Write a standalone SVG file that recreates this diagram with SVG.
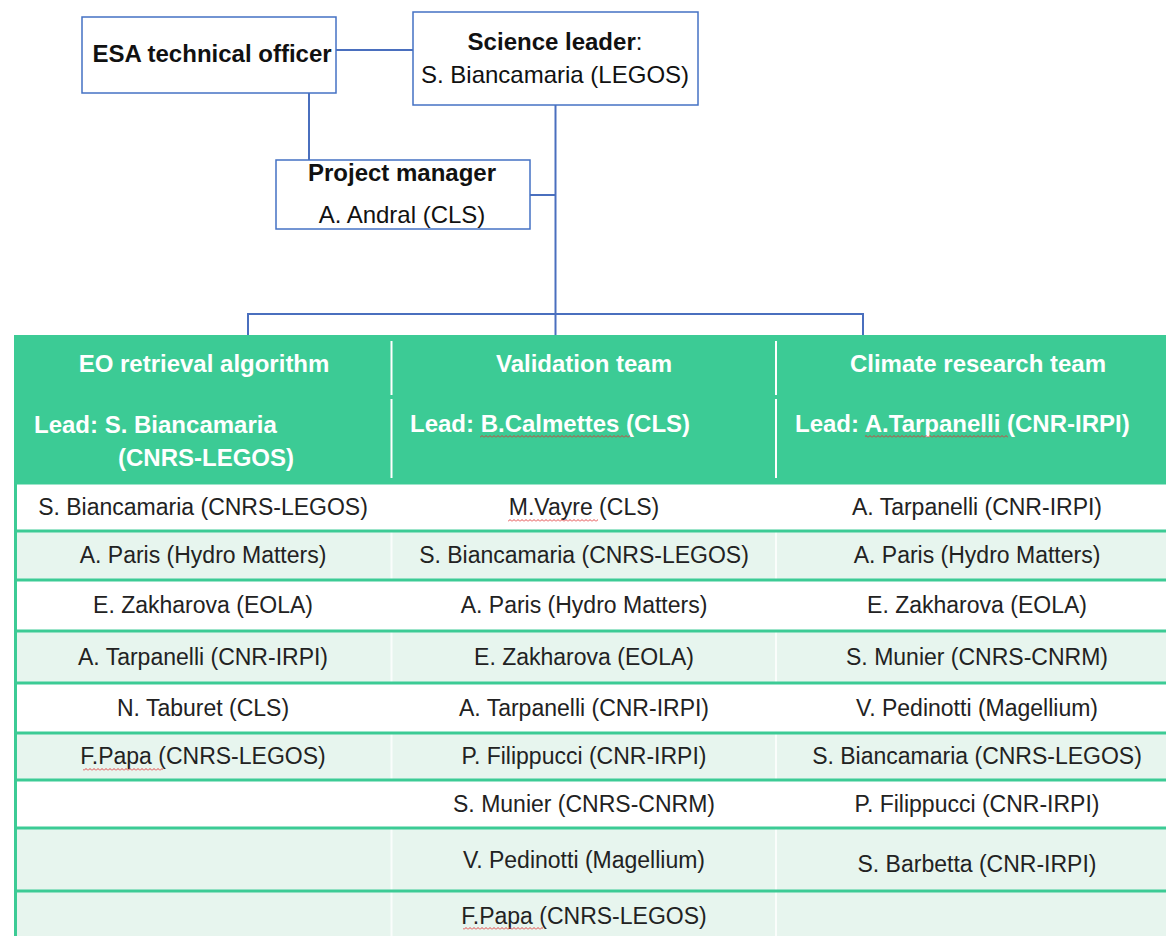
<svg xmlns="http://www.w3.org/2000/svg" width="1166" height="936" viewBox="0 0 1166 936">
<defs>
<style>
.box{fill:#fff;stroke:#4472C4;stroke-width:1.5}
.conn{stroke:#4A6FBE;stroke-width:2;fill:none}
.tb{font-family:"Liberation Sans",Arial,sans-serif;font-size:24px;font-weight:bold;fill:#111}
.tr{font-family:"Liberation Sans",Arial,sans-serif;font-size:24px;fill:#111}
.hd{font-family:"Liberation Sans",Arial,sans-serif;font-size:24px;font-weight:bold;fill:#fff}
.bd{font-family:"Liberation Sans",Arial,sans-serif;font-size:23px;fill:#222;text-anchor:middle}
.rowline{stroke:#3CCB95;stroke-width:3}
.lt{fill:#E7F5EE}
.wt{fill:#fff}
.sq{fill:url(#squig)}
</style>
<pattern id="squig" x="0" y="0" width="4" height="3" patternUnits="userSpaceOnUse">
<path d="M0,2.5 L2,0.5 L4,2.5" stroke="#E03030" stroke-width="0.9" fill="none"/>
</pattern>
</defs>
<rect width="1166" height="936" fill="#fff"/>

<g id="connectors">
<line class="conn" x1="336" y1="50" x2="413" y2="50"/>
<line class="conn" x1="309" y1="93" x2="309" y2="160"/>
<line class="conn" x1="555.5" y1="105" x2="555.5" y2="336" stroke-width="2.5"/>
<line class="conn" x1="530" y1="195" x2="555" y2="195"/>
<polyline class="conn" points="248,336 248,314 863,314 863,336"/>
</g>

<g id="esa-technical-officer">
<rect class="box" x="82" y="17" width="254" height="76"/>
<text class="tb" x="212" y="62" text-anchor="middle">ESA technical officer</text>
</g>

<g id="science-leader">
<rect class="box" x="413" y="12" width="285" height="93"/>
<text class="tb" x="555" y="50" text-anchor="middle">Science leader<tspan font-weight="normal">:</tspan></text>
<text class="tr" x="555" y="83" text-anchor="middle">S. Biancamaria (LEGOS)</text>
</g>

<g id="project-manager">
<rect class="box" x="276" y="160" width="254" height="69"/>
<text class="tb" x="402" y="181" text-anchor="middle">Project manager</text>
<text class="tr" x="402" y="223" text-anchor="middle">A. Andral (CLS)</text>
</g>

<g id="table">
<rect x="14" y="335" width="1152" height="148" fill="#3CCB95"/>
<rect class="wt" x="15" y="483" width="1151" height="48"/>
<rect class="lt" x="15" y="531" width="1151" height="49"/>
<rect class="wt" x="15" y="580" width="1151" height="51"/>
<rect class="lt" x="15" y="631" width="1151" height="52"/>
<rect class="wt" x="15" y="683" width="1151" height="50"/>
<rect class="lt" x="15" y="733" width="1151" height="47"/>
<rect class="wt" x="15" y="780" width="1151" height="48"/>
<rect class="lt" x="15" y="828" width="1151" height="63"/>
<rect class="lt" x="15" y="891" width="1151" height="45"/>
<g stroke="#fff" stroke-width="2">
<line x1="391.5" y1="341" x2="391.5" y2="395"/>
<line x1="391.5" y1="399" x2="391.5" y2="478"/>
<line x1="776" y1="341" x2="776" y2="395"/>
<line x1="776" y1="399" x2="776" y2="478"/>
<line x1="391.5" y1="483" x2="391.5" y2="936" opacity="0.8"/>
<line x1="776" y1="483" x2="776" y2="936" opacity="0.8"/>
</g>
<g class="rowline">
<line x1="14" y1="483" x2="1166" y2="483"/>
<line x1="14" y1="531" x2="1166" y2="531"/>
<line x1="14" y1="580" x2="1166" y2="580"/>
<line x1="14" y1="631" x2="1166" y2="631"/>
<line x1="14" y1="683" x2="1166" y2="683"/>
<line x1="14" y1="733" x2="1166" y2="733"/>
<line x1="14" y1="780" x2="1166" y2="780"/>
<line x1="14" y1="828" x2="1166" y2="828"/>
<line x1="14" y1="891" x2="1166" y2="891"/>
<line x1="15.5" y1="483" x2="15.5" y2="936"/>
</g>

<g id="col-eo-retrieval">
<text class="hd" x="204" y="372" text-anchor="middle">EO retrieval algorithm</text>
<text class="hd" x="34" y="433">Lead: S. Biancamaria</text>
<text class="hd" x="118" y="466">(CNRS-LEGOS)</text>
<text class="bd" x="203" y="515">S. Biancamaria (CNRS-LEGOS)</text>
<text class="bd" x="203" y="563">A. Paris (Hydro Matters)</text>
<text class="bd" x="203" y="613">E. Zakharova (EOLA)</text>
<text class="bd" x="203" y="665">A. Tarpanelli (CNR-IRPI)</text>
<text class="bd" x="203" y="716">N. Taburet (CLS)</text>
<text class="bd" x="203" y="764">F.Papa (CNRS-LEGOS)</text>
<rect class="sq" x="83" y="768" width="80" height="3"/>
</g>

<g id="col-validation">
<text class="hd" x="584" y="372" text-anchor="middle">Validation team</text>
<text class="hd" x="410" y="432">Lead: B.Calmettes (CLS)</text>
<rect class="sq" x="480" y="435" width="150" height="3"/>
<text class="bd" x="584" y="515">M.Vayre (CLS)</text>
<rect class="sq" x="508" y="519" width="90" height="3"/>
<text class="bd" x="584" y="563">S. Biancamaria (CNRS-LEGOS)</text>
<text class="bd" x="584" y="613">A. Paris (Hydro Matters)</text>
<text class="bd" x="584" y="665">E. Zakharova (EOLA)</text>
<text class="bd" x="584" y="716">A. Tarpanelli (CNR-IRPI)</text>
<text class="bd" x="584" y="764">P. Filippucci (CNR-IRPI)</text>
<text class="bd" x="584" y="812">S. Munier (CNRS-CNRM)</text>
<text class="bd" x="584" y="868">V. Pedinotti (Magellium)</text>
<text class="bd" x="584" y="924">F.Papa (CNRS-LEGOS)</text>
<rect class="sq" x="463" y="927" width="80" height="3"/>
</g>

<g id="col-climate-research">
<text class="hd" x="978" y="372" text-anchor="middle">Climate research team</text>
<text class="hd" x="795" y="432">Lead: A.Tarpanelli (CNR-IRPI)</text>
<rect class="sq" x="865" y="435" width="143" height="3"/>
<text class="bd" x="977" y="515">A. Tarpanelli (CNR-IRPI)</text>
<text class="bd" x="977" y="563">A. Paris (Hydro Matters)</text>
<text class="bd" x="977" y="613">E. Zakharova (EOLA)</text>
<text class="bd" x="977" y="665">S. Munier (CNRS-CNRM)</text>
<text class="bd" x="977" y="716">V. Pedinotti (Magellium)</text>
<text class="bd" x="977" y="764">S. Biancamaria (CNRS-LEGOS)</text>
<text class="bd" x="977" y="812">P. Filippucci (CNR-IRPI)</text>
<text class="bd" x="977" y="872">S. Barbetta (CNR-IRPI)</text>
</g>
</g>
</svg>
